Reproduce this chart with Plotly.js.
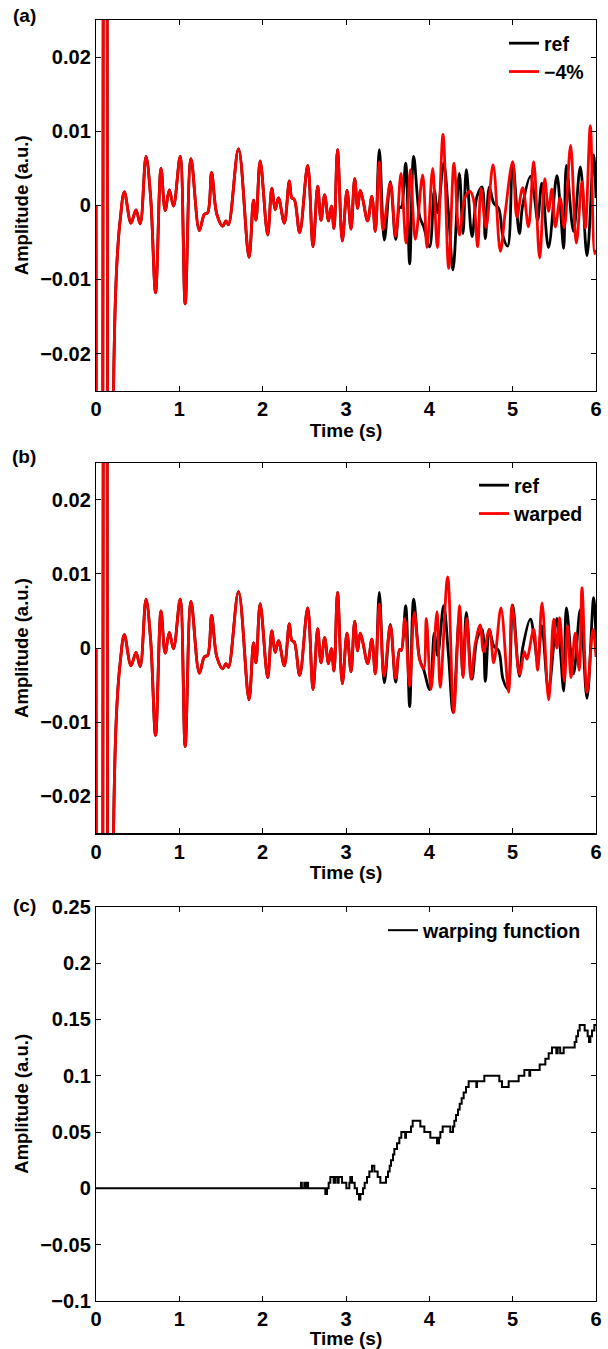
<!DOCTYPE html>
<html>
<head>
<meta charset="utf-8">
<script src="https://cdn.plot.ly/plotly-3.0.1.min.js"></script>
<style>
html,body{margin:0;padding:0;background:#fff;}
#chart{width:608px;height:1349px;}
</style>
</head>
<body>
<div id="chart"></div>
<script>
// ---------- data ----------
// common part of the reference / shifted / warped traces (identical up to ~3.35 s)
const commonT = [0, 0.015, 0.05, 0.084, 0.11, 0.136, 0.17, 0.19, 0.21, 0.235, 0.26, 0.29, 0.34,
  0.42, 0.48, 0.53, 0.60, 0.655, 0.715, 0.78, 0.83, 0.88, 0.93, 1.01, 1.07, 1.14, 1.24, 1.30, 1.34,
  1.387, 1.45, 1.52, 1.56, 1.59, 1.71, 1.836, 1.89, 1.92, 1.97, 2.06, 2.11, 2.15, 2.19, 2.26, 2.32,
  2.35, 2.38, 2.444, 2.54, 2.604, 2.66, 2.70, 2.744, 2.79, 2.824, 2.856, 2.898, 2.956, 3.012, 3.06,
  3.104, 3.14, 3.17, 3.20, 3.26, 3.31, 3.352];
const commonV = [0, -0.2, -0.3, 0, 0.3, 0, -0.3, -0.06, -0.025, -0.012, -0.006, -0.002, 0.0018,
  -0.0024, -0.0006, -0.0025, 0.0066, 0.0012, -0.0118, 0.0050, -0.0007, 0.0021, -0.0001, 0.0066, -0.0133, 0.0063, -0.0034, -0.0012, -0.0010,
  0.0044, -0.0012, -0.0028, -0.0021, -0.0026, 0.0076, -0.0070, 0.0007, -0.0020, 0.0060, -0.0040, 0.0023, -0.0006, 0.0010, -0.0024, 0.0033,
  0.0010, 0.0008, -0.0037, 0.0054, -0.0056, 0.0026, -0.0020, 0.0014, -0.0021, -0.0001, -0.0031, 0.0075, -0.0048, 0.0020, -0.0032,
  0.0036, -0.0004, 0.0020, 0.0009, -0.0021, 0.0012, -0.0035];

// reference trace after 3.35 s
const refLateT = [3.40, 3.46, 3.532, 3.596, 3.644, 3.664, 3.716, 3.764, 3.812, 3.884, 3.932, 4.004, 4.06, 4.10,
  4.172, 4.23, 4.284, 4.36, 4.404, 4.444, 4.512, 4.572, 4.632, 4.672, 4.72, 4.772, 4.832, 4.884, 4.94, 5.0,
  5.08, 5.12, 5.212, 5.26, 5.30, 5.35, 5.43, 5.53, 5.57, 5.612, 5.645, 5.73, 5.812, 5.892, 5.972, 6.0];
const refLateV = [0.0075, -0.0047, 0.0032, -0.0046, -0.0002, -0.0003, 0.0057, -0.0079, 0.0066, -0.0015, -0.0029, -0.0056, 0.0020, -0.0010,
  0.0057, -0.0010, -0.0087, 0.0043, -0.0038, 0.0048, -0.0042, 0.0012, 0.0025, -0.0045, 0.0025, 0.0003, -0.0004, -0.0042, -0.0055, 0.0058,
  -0.0038, 0.0000, 0.0039, 0.0012, -0.0020, 0.0030, -0.0057, 0.0040, 0.0000, -0.0058, 0.0054, -0.0035, 0.0052, -0.0068, 0.0068, 0.0010];

// -4 % trace after 3.35 s
const shiftLateT = [3.40, 3.444, 3.532, 3.596, 3.66, 3.72, 3.772, 3.832, 3.92, 3.972, 4.04, 4.096, 4.164, 4.232,
  4.296, 4.36, 4.43, 4.49, 4.53, 4.58, 4.62, 4.68, 4.765, 4.852, 4.91, 5.0, 5.05, 5.12, 5.19, 5.252,
  5.324, 5.385, 5.43, 5.47, 5.512, 5.57, 5.62, 5.695, 5.764, 5.832, 5.872, 5.932, 5.984, 6.0];
const shiftLateV = [0.0059, -0.0033, 0.0030, -0.0042, 0.0043, -0.0051, 0.0048, -0.0046, 0.0041, -0.0057, 0.0050, -0.0057, 0.0096, -0.0085,
  0.0057, -0.0040, 0.0011, 0.0019, 0.0008, -0.0056, 0.0023, -0.0030, 0.0055, -0.0062, -0.0010, 0.0059, -0.0016, 0.0024, -0.0029, 0.0059,
  -0.0071, 0.0036, -0.0008, 0.0022, -0.0029, 0.0010, -0.0030, 0.0081, -0.0051, 0.0032, -0.0031, 0.0107, -0.0065, -0.0060];

// warped trace after 3.35 s
const warpedLateT = [3.40, 3.456, 3.532, 3.596, 3.644, 3.664, 3.705, 3.764, 3.82, 3.884, 3.932, 3.964, 4.02, 4.092,
  4.13, 4.22, 4.292, 4.364, 4.404, 4.45, 4.50, 4.55, 4.61, 4.65, 4.72, 4.772, 4.80, 4.86, 4.952, 4.992,
  5.084, 5.14, 5.17, 5.252, 5.30, 5.352, 5.432, 5.492, 5.53, 5.564, 5.62, 5.66, 5.70, 5.75, 5.80, 5.832,
  5.892, 5.964, 6.0];
const warpedLateV = [0.0060, -0.0038, 0.0030, -0.0041, -0.0002, -0.0003, 0.0040, -0.0052, 0.0048, -0.0016, -0.0028, 0.0040, -0.0056, 0.0049,
  -0.0053, 0.0096, -0.0087, 0.0057, -0.0040, 0.0040, -0.0042, 0.0005, 0.0031, -0.0005, 0.0025, -0.0020, -0.0002, 0.0054, -0.0060, 0.0058,
  -0.0036, -0.0005, -0.0015, 0.0025, -0.0030, 0.0061, -0.0070, 0.0039, 0.0000, 0.0041, -0.0045, 0.0030, -0.0040, 0.0020, -0.0030, 0.0081,
  -0.0060, 0.0025, -0.0012];

// warping function (step values)
const warpFnT = [0, 2.46, 2.47, 2.50, 2.51, 2.53, 2.545, 2.752, 2.772, 2.792, 2.812, 2.852, 2.872, 2.90, 2.912,
  2.952, 2.964, 3.004, 3.04, 3.052, 3.072, 3.084, 3.104, 3.132, 3.156, 3.172, 3.184, 3.204, 3.224, 3.252,
  3.28, 3.312, 3.34, 3.352, 3.38, 3.412, 3.46, 3.48, 3.504, 3.524, 3.54, 3.564, 3.58, 3.612, 3.64, 3.664,
  3.71, 3.72, 3.78, 3.80, 3.892, 3.912, 3.94, 4.012, 4.072, 4.092, 4.116, 4.132, 4.16, 4.252, 4.284, 4.30,
  4.32, 4.344, 4.364, 4.388, 4.412, 4.44, 4.472, 4.564, 4.572, 4.60, 4.66, 4.84, 4.872, 4.952, 5.072, 5.14,
  5.20, 5.21, 5.324, 5.392, 5.432, 5.472, 5.524, 5.54, 5.57, 5.612, 5.744, 5.764, 5.784, 5.804, 5.864, 5.90,
  5.916, 5.932, 5.952, 5.98, 6.0];
const warpFnV = [0, 0.005, 0, 0.005, 0, 0.005, 0, -0.005, 0, 0.005, 0.01, 0.005, 0.01, 0.005, 0.01,
  0.005, 0.005, 0, 0.005, 0.01, 0.005, 0.005, 0, -0.005, -0.01, -0.005, -0.005, 0, 0.005, 0.01,
  0.015, 0.02, 0.015, 0.015, 0.01, 0.005, 0.005, 0.01, 0.015, 0.02, 0.025, 0.03, 0.035, 0.04, 0.045, 0.05,
  0.045, 0.05, 0.055, 0.06, 0.055, 0.055, 0.05, 0.045, 0.045, 0.04, 0.045, 0.05, 0.055, 0.05, 0.055, 0.06,
  0.065, 0.07, 0.075, 0.08, 0.085, 0.09, 0.095, 0.09, 0.095, 0.095, 0.1, 0.095, 0.09, 0.095, 0.1, 0.105,
  0.1, 0.105, 0.11, 0.115, 0.12, 0.125, 0.12, 0.125, 0.12, 0.125, 0.13, 0.135, 0.14, 0.145, 0.14, 0.135,
  0.13, 0.135, 0.14, 0.145, 0.145];

// tick labels
const xTicks = [0, 1, 2, 3, 4, 5, 6];
const xTickText = ['0', '1', '2', '3', '4', '5', '6'];
const ampTicks = [-0.02, -0.01, 0, 0.01, 0.02];
const ampTickText = ['\u22120.02', '\u22120.01', '0', '0.01', '0.02'];
const wfTicks = [-0.1, -0.05, 0, 0.05, 0.1, 0.15, 0.2, 0.25];
const wfTickText = ['\u22120.1', '\u22120.05', '0', '0.05', '0.1', '0.15', '0.2', '0.25'];

// ---------- figure ----------
const W = 608, H = 1349, ML = 96, MR = 12, MT = 20, MB = 48;
const PH = H - MT - MB;
const py = p => (H - MB - p) / PH;         // pixel row -> paper y
const px = p => (p - ML) / (W - ML - MR);  // pixel col -> paper x

const FAM = 'Liberation Sans, Arial, Helvetica, sans-serif';
const FONT = {family: FAM, size: 19, color: '#000', weight: 'bold'};
const YTFONT = {family: FAM, size: 18.5, color: '#000', weight: 'bold'};
const TICKFONT = {family: FAM, size: 20, color: '#000', weight: 'bold'};
const LEGFONT = {family: FAM, size: 19.5, color: '#000', weight: 'bold'};

const refX = commonT.concat(refLateT), refY = commonV.concat(refLateV);
const shX = commonT.concat(shiftLateT), shY = commonV.concat(shiftLateV);
const wpX = commonT.concat(warpedLateT), wpY = commonV.concat(warpedLateV);

const traces = [
  {x: refX, y: refY, xaxis: 'x', yaxis: 'y', name: 'ref', legend: 'legend', mode: 'lines',
   line: {color: '#000', width: 2.8, shape: 'spline', smoothing: 1}},
  {x: shX, y: shY, xaxis: 'x', yaxis: 'y', name: '\u22124%', legend: 'legend', mode: 'lines',
   line: {color: '#ff0000', width: 2.8, shape: 'spline', smoothing: 1}},
  {x: refX, y: refY, xaxis: 'x2', yaxis: 'y2', name: 'ref', legend: 'legend2', mode: 'lines',
   line: {color: '#000', width: 2.8, shape: 'spline', smoothing: 1}},
  {x: wpX, y: wpY, xaxis: 'x2', yaxis: 'y2', name: 'warped', legend: 'legend2', mode: 'lines',
   line: {color: '#ff0000', width: 2.8, shape: 'spline', smoothing: 1}},
  {x: warpFnT, y: warpFnV, xaxis: 'x3', yaxis: 'y3', name: 'warping function', legend: 'legend3', mode: 'lines',
   line: {color: '#000', width: 2, shape: 'hv'}}
];

function xAx(anchor) {
  return {anchor: anchor, range: [0, 6], tickvals: xTicks, ticktext: xTickText, ticks: 'inside', ticklen: 5,
    tickwidth: 1, tickcolor: '#000', mirror: 'ticks', showline: true, linecolor: '#000', linewidth: 1.2,
    showgrid: false, zeroline: false, tickfont: TICKFONT, automargin: false,
    title: {text: 'Time (s)', font: FONT, standoff: 0}};
}
function yAx(anchor, dom, range, tv, tt) {
  return {anchor: anchor, domain: dom, range: range, tickvals: tv, ticktext: tt, ticks: 'inside', ticklen: 5,
    tickwidth: 1, tickcolor: '#000', mirror: 'ticks', showline: true, linecolor: '#000', linewidth: 1.2,
    showgrid: false, zeroline: false, tickfont: TICKFONT, automargin: false,
    title: {text: 'Amplitude (a.u.)', font: YTFONT, standoff: 6}};
}

const legBase = {xanchor: 'left', yanchor: 'top', bgcolor: 'rgba(0,0,0,0)', borderwidth: 0,
  font: LEGFONT, tracegroupgap: 0, itemwidth: 30};

const layout = {
  width: W, height: H, margin: {l: ML, r: MR, t: MT, b: MB}, paper_bgcolor: '#fff', plot_bgcolor: '#fff',
  font: FONT, showlegend: true,
  xaxis: xAx('y'), xaxis2: xAx('y2'), xaxis3: xAx('y3'),
  yaxis: yAx('x', [py(390.7), 1], [-0.025, 0.025], ampTicks, ampTickText),
  yaxis2: yAx('x2', [py(833.3), py(462.7)], [-0.025, 0.025], ampTicks, ampTickText),
  yaxis3: yAx('x3', [0, py(906.7)], [-0.1, 0.25], wfTicks, wfTickText),
  legend: Object.assign({}, legBase, {x: px(504), y: py(24)}),
  legend2: Object.assign({}, legBase, {x: px(474), y: py(466)}),
  legend3: Object.assign({}, legBase, {x: px(383), y: py(911)}),
  annotations: [
    {text: '(a)', xref: 'paper', yref: 'paper', x: px(24), y: py(16), showarrow: false, font: FONT, xanchor: 'center', yanchor: 'middle'},
    {text: '(b)', xref: 'paper', yref: 'paper', x: px(24), y: py(456), showarrow: false, font: FONT, xanchor: 'center', yanchor: 'middle'},
    {text: '(c)', xref: 'paper', yref: 'paper', x: px(24), y: py(905), showarrow: false, font: FONT, xanchor: 'center', yanchor: 'middle'}
  ]
};

Plotly.newPlot('chart', traces, layout, {staticPlot: true, displayModeBar: false});
</script>
</body>
</html>
